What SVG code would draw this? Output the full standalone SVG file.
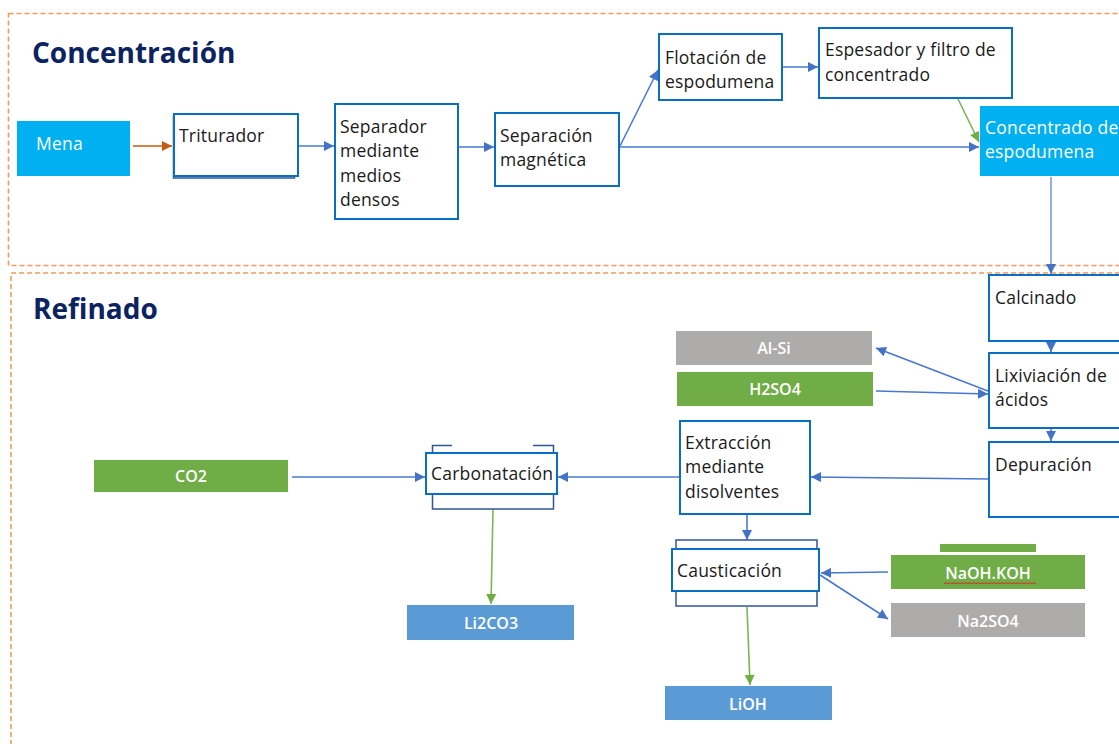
<svg xmlns="http://www.w3.org/2000/svg" width="1119" height="744" viewBox="0 0 1119 744">
<style>
.zone{fill:none;stroke:#F19B5E;stroke-width:1.6;stroke-dasharray:5 3}
.title{font-family:"Open Sans","Liberation Sans",sans-serif;font-weight:700;font-size:28px;fill:#0B2360}
.box{fill:#fff;stroke:#0A6FC2;stroke-width:2}
.back{fill:#fff;stroke:#2F5597;stroke-width:1.5}
.t{font-family:"Open Sans","Noto Sans","Liberation Sans",sans-serif;font-size:17.5px;letter-spacing:0.2px;fill:#1a1a1a}
.tw{font-family:"Open Sans","Noto Sans","Liberation Sans",sans-serif;font-size:17.5px;letter-spacing:0.2px;fill:#fff}
.lab{font-family:"Open Sans","Liberation Sans",sans-serif;font-size:16px;font-weight:600;fill:#fff;text-anchor:middle}
.cyan{fill:#00B0F0}
.green{fill:#70AD47}
.grey{fill:#AEABAB}
.blue{fill:#5B9BD5}
.c{fill:none;stroke:#4A78CF;stroke-width:1.6}
.cg{fill:none;stroke:#7DB553;stroke-width:1.6}
.co{fill:none;stroke:#C55A11;stroke-width:1.6}
.cl{fill:none;stroke:#8DA8DC;stroke-width:1.8}
</style>
<defs>
<marker id="ab" viewBox="0 0 10 10" refX="10" refY="5" markerWidth="11" markerHeight="10" markerUnits="userSpaceOnUse" orient="auto"><path d="M0,0 L10,5 L0,10 z" fill="#4472C4"/></marker>
<marker id="ag" viewBox="0 0 10 10" refX="10" refY="5" markerWidth="11" markerHeight="10" markerUnits="userSpaceOnUse" orient="auto"><path d="M0,0 L10,5 L0,10 z" fill="#70AD47"/></marker>
<marker id="ao" viewBox="0 0 10 10" refX="10" refY="5" markerWidth="11" markerHeight="10" markerUnits="userSpaceOnUse" orient="auto"><path d="M0,0 L10,5 L0,10 z" fill="#C55A11"/></marker>
</defs>
<rect width="1119" height="744" fill="#fff"/>

<g id="zones">
<rect class="zone" x="8.5" y="13.5" width="1130" height="252"/>
<rect class="zone" x="11" y="273" width="1130" height="490"/>
<text class="title" x="32" y="63">Concentración</text>
<text class="title" x="33" y="319">Refinado</text>
</g>

<g id="connectors">
<line class="co" x1="133" y1="146" x2="172" y2="146" marker-end="url(#ao)"/>
<line class="c" x1="298" y1="146" x2="334" y2="146" marker-end="url(#ab)"/>
<line class="c" x1="458" y1="147" x2="494" y2="147" marker-end="url(#ab)"/>
<line class="c" x1="620" y1="146" x2="658" y2="70" marker-end="url(#ab)"/>
<line class="c" x1="620" y1="147" x2="979" y2="147" marker-end="url(#ab)"/>
<line class="c" x1="782" y1="67" x2="818" y2="67" marker-end="url(#ab)"/>
<line class="cg" x1="958" y1="99" x2="979" y2="142" marker-end="url(#ag)"/>
<line class="cl" x1="1051" y1="177" x2="1051" y2="274" marker-end="url(#ab)"/>
<line class="c" x1="1051" y1="342" x2="1051" y2="352" marker-end="url(#ab)"/>
<line class="c" x1="1051" y1="428" x2="1051" y2="441" marker-end="url(#ab)"/>
<line class="c" x1="988" y1="391" x2="876" y2="348" marker-end="url(#ab)"/>
<line class="c" x1="876" y1="391" x2="988" y2="394" marker-end="url(#ab)"/>
<line class="c" x1="989" y1="479" x2="811" y2="477" marker-end="url(#ab)"/>
<line class="c" x1="680" y1="477" x2="558" y2="477" marker-end="url(#ab)"/>
<line class="c" x1="292" y1="477" x2="425" y2="477" marker-end="url(#ab)"/>
<line class="cg" x1="493" y1="509" x2="491" y2="604" marker-end="url(#ag)"/>
<line class="c" x1="747" y1="514" x2="747" y2="540" marker-end="url(#ab)"/>
<line class="c" x1="888" y1="572" x2="821" y2="573" marker-end="url(#ab)"/>
<line class="c" x1="820" y1="575" x2="888" y2="619" marker-end="url(#ab)"/>
<line class="cg" x1="747" y1="607" x2="750" y2="685" marker-end="url(#ag)"/>
</g>

<g id="mena">
<rect class="cyan" x="17" y="121" width="113" height="55"/>
<text class="tw" x="36" y="150">Mena</text>
</g>

<g id="triturador">
<rect class="back" x="173.5" y="116" width="121" height="62"/>
<rect class="box" x="174" y="114" width="124" height="62"/>
<text class="t" x="179" y="142">Triturador</text>
</g>

<g id="separador">
<rect class="box" x="335" y="104" width="123" height="115"/>
<text class="t" x="340"><tspan x="340" y="133">Separador</tspan><tspan x="340" y="157">mediante</tspan><tspan x="340" y="182">medios</tspan><tspan x="340" y="206">densos</tspan></text>
</g>

<g id="separacion">
<rect class="box" x="495" y="113" width="124" height="73"/>
<text class="t"><tspan x="500" y="142">Separación</tspan><tspan x="500" y="166">magnética</tspan></text>
</g>

<g id="flotacion">
<rect class="box" x="659" y="34" width="123" height="66"/>
<text class="t"><tspan x="665" y="64">Flotación de</tspan><tspan x="665" y="88">espodumena</tspan></text>
</g>

<g id="espesador">
<rect class="box" x="819" y="28" width="193" height="70"/>
<text class="t"><tspan x="825" y="56">Espesador y filtro de</tspan><tspan x="825" y="81">concentrado</tspan></text>
</g>

<g id="concentrado">
<rect class="cyan" x="980" y="106" width="145" height="70"/>
<text class="tw"><tspan x="985" y="134">Concentrado de</tspan><tspan x="985" y="158">espodumena</tspan></text>
</g>

<g id="calcinado">
<rect class="box" x="989" y="275" width="135" height="66"/>
<text class="t" x="995" y="304">Calcinado</text>
</g>

<g id="lixiviacion">
<rect class="box" x="989" y="353" width="135" height="75"/>
<text class="t"><tspan x="995" y="382">Lixiviación de</tspan><tspan x="995" y="406">ácidos</tspan></text>
</g>

<g id="depuracion">
<rect class="box" x="989" y="442" width="135" height="75"/>
<text class="t" x="995" y="471">Depuración</text>
</g>

<g id="alsi">
<rect class="grey" x="676" y="331" width="196" height="34"/>
<text class="lab" x="774" y="354">Al-Si</text>
</g>

<g id="h2so4">
<rect class="green" x="677" y="372" width="196" height="34"/>
<text class="lab" x="775" y="395">H2SO4</text>
</g>

<g id="extraccion">
<rect class="box" x="680" y="421" width="130" height="93"/>
<text class="t"><tspan x="685" y="449">Extracción</tspan><tspan x="685" y="473">mediante</tspan><tspan x="685" y="498">disolventes</tspan></text>
</g>

<g id="carbonatacion">
<path d="M432.5,453 V445.5 H452 M533,445.5 H553.5 V453" fill="none" stroke="#2F5597" stroke-width="1.5"/>
<path d="M432.5,494 V509 H553.5 V494" fill="none" stroke="#2F5597" stroke-width="1.5"/>
<rect class="box" x="426" y="453" width="131" height="41"/>
<text class="t" x="431" y="480">Carbonatación</text>
</g>

<g id="co2">
<rect class="green" x="94" y="460" width="194" height="32"/>
<text class="lab" x="191" y="482">CO2</text>
</g>

<g id="li2co3">
<rect class="blue" x="407" y="605" width="167" height="35"/>
<text class="lab" x="491" y="629">Li2CO3</text>
</g>

<g id="caustificacion">
<rect class="back" x="676" y="540" width="141" height="66"/>
<rect class="box" x="672" y="549" width="147" height="42"/>
<text class="t" x="677" y="577">Causticación</text>
</g>

<g id="naoh">
<rect class="green" x="940" y="544" width="96" height="8"/>
<rect class="green" x="891" y="555" width="194" height="34"/>
<text class="lab" x="988" y="579">NaOH.KOH</text>
<path d="M944,584 l2,-1.5 l2,1.5 l2,-1.5 l2,1.5 l2,-1.5 l2,1.5 l2,-1.5 l2,1.5 l2,-1.5 l2,1.5 l2,-1.5 l2,1.5 l2,-1.5 l2,1.5 l2,-1.5 l2,1.5 l2,-1.5 l2,1.5 l2,-1.5 l2,1.5 l2,-1.5 l2,1.5 l2,-1.5 l2,1.5 l2,-1.5 l2,1.5 l2,-1.5 l2,1.5 l2,-1.5 l2,1.5 l2,-1.5 l2,1.5 l2,-1.5 l2,1.5 l2,-1.5 l2,1.5 l2,-1.5 l2,1.5 l2,-1.5 l2,1.5 l2,-1.5 l2,1.5 l2,-1.5 l2,1.5 l2,-1.5 l2,1.5" fill="none" stroke="#E02424" stroke-width="1"/>
</g>

<g id="na2so4">
<rect class="grey" x="891" y="603" width="194" height="34"/>
<text class="lab" x="988" y="627">Na2SO4</text>
</g>

<g id="lioh">
<rect class="blue" x="665" y="686" width="167" height="34"/>
<text class="lab" x="748" y="710">LiOH</text>
</g>
</svg>
